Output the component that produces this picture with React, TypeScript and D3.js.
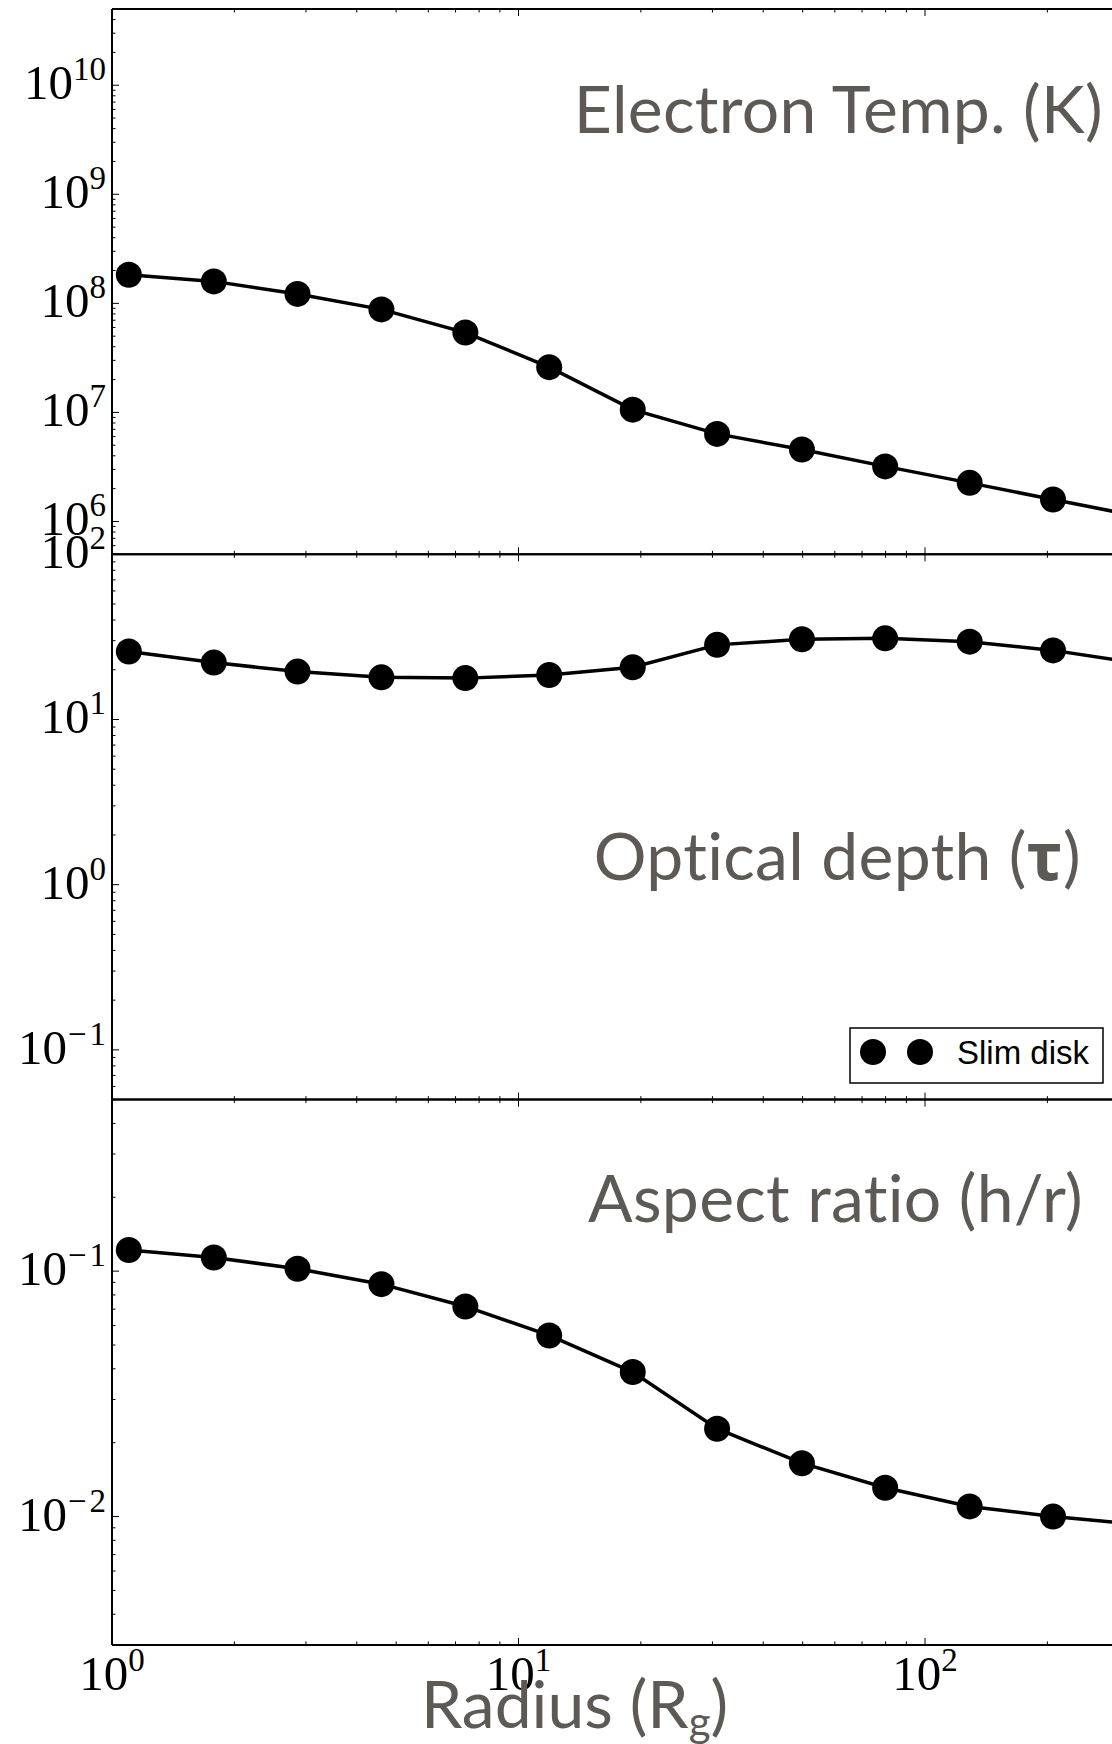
import React from "react";
import * as d3 from "d3";

// ---- data ----
const RADIUS = [1.1, 1.78, 2.86, 4.6, 7.4, 11.9, 19.1, 30.8, 49.8, 79.8, 128.8, 206.5, 333];
const ELECTRON_TEMP = [1.83e8, 1.59e8, 1.22e8, 8.8e7, 5.4e7, 2.6e7, 1.06e7, 6.35e6, 4.57e6, 3.2e6, 2.26e6, 1.59e6, 1.12e6];
const OPTICAL_DEPTH = [25.8, 22.1, 19.5, 18.0, 17.8, 18.6, 20.7, 28.3, 30.6, 31.0, 29.6, 26.2, 22.0];
const ASPECT_RATIO = [0.122, 0.1137, 0.1023, 0.0885, 0.0718, 0.0547, 0.0388, 0.0228, 0.0165, 0.0131, 0.011, 0.01, 0.0093];

const X_LIMITS = [1, 1000];
const X_TICK_EXPONENTS = [0, 1, 2];
const Y_LIMITS_TEMP = [5e5, 5e10];
const Y_LIMITS_TAU = [0.05, 100];
const Y_LIMITS_ASPECT = [0.003, 0.5];

const PANEL_TITLES = ["Electron Temp. (K)", "Optical depth", "Aspect ratio (h/r)"];
const X_TITLE = "Radius (R";
const X_TITLE_SUB = "g";
const LEGEND_LABEL = "Slim disk";

// ---- layout ----
const W = 1112;
const H = 1744;
const LEFT = 112;
const DECADE_PX = 406.5;
const TOP = 9;
const PANEL_H = 545.3;
const MAJOR = 7;
const MINOR = 3.5;
const TITLE_COLOR = "#5d5a55";
const TICK_FONT = "'Liberation Serif', 'Times New Roman', serif";
const TITLE_FONT = "Lato, 'Open Sans', sans-serif";
const TITLE_FS = 66;
const FS = 49;
const SUP_FS = 33;
const SUP_RAISE = 19;

function logMinor(domain: number[]) {
  const out: number[] = [];
  const k0 = Math.floor(Math.log10(domain[0]));
  const k1 = Math.ceil(Math.log10(domain[1]));
  for (let k = k0; k <= k1; k++) {
    for (let m = 2; m <= 9; m++) {
      const v = m * Math.pow(10, k);
      if (v >= domain[0] * 0.9999 && v <= domain[1] * 1.0001) out.push(v);
    }
  }
  return out;
}
function logMajor(domain: number[]) {
  const out: number[] = [];
  const k0 = Math.ceil(Math.log10(domain[0]) - 1e-9);
  const k1 = Math.floor(Math.log10(domain[1]) + 1e-9);
  for (let k = k0; k <= k1; k++) out.push(k);
  return out;
}

function TickLabel(props: { x: number; y: number; k: number; anchor: string }) {
  const { x, y, k, anchor } = props;
  return (
    <text x={x} y={y} textAnchor={anchor} fontFamily={TICK_FONT} fontSize={FS} fill="#000">
      10
      {k < 0 ? (
        <>
          <tspan fontSize={SUP_FS} dy={-SUP_RAISE} dx={1}>{"\u2212"}</tspan>
          <tspan fontSize={SUP_FS} dx={3}>{String(Math.abs(k))}</tspan>
        </>
      ) : (
        <tspan fontSize={SUP_FS} dy={-SUP_RAISE}>{String(k)}</tspan>
      )}
    </text>
  );
}

export default function App() {
  const x = d3.scaleLog().domain(X_LIMITS).range([LEFT, LEFT + 3 * DECADE_PX]);
  const xRight = LEFT + 3 * DECADE_PX;
  const panels = [
    { vals: ELECTRON_TEMP, ylim: Y_LIMITS_TEMP },
    { vals: OPTICAL_DEPTH, ylim: Y_LIMITS_TAU },
    { vals: ASPECT_RATIO, ylim: Y_LIMITS_ASPECT },
  ];
  const xMinor = logMinor(X_LIMITS);
  const xMajor = X_TICK_EXPONENTS;

  return (
    <svg width={W} height={H} style={{ position: "absolute", left: 0, top: 0, background: "#fff" }}>
      <rect x={0} y={0} width={W} height={H} fill="#fff" />
      {panels.map((p, i) => {
        const top = TOP + i * PANEL_H;
        const bottom = top + PANEL_H;
        const y = d3.scaleLog().domain(p.ylim).range([bottom, top]);
        const pts = RADIUS.map((r, j) => [x(r), y(p.vals[j])] as [number, number]);
        const line = d3.line()(pts) || "";
        const yMajor = logMajor(p.ylim);
        const yMinor = logMinor(p.ylim);
        const clipId = `clip${i}`;
        return (
          <g key={i}>
            <defs>
              <clipPath id={clipId}>
                <rect x={LEFT} y={top} width={xRight - LEFT} height={PANEL_H} />
              </clipPath>
            </defs>
            {xMinor.map((v, j) => (
              <g key={"xm" + j} stroke="#000" strokeWidth={1}>
                <line x1={x(v)} x2={x(v)} y1={top} y2={top + MINOR} />
                <line x1={x(v)} x2={x(v)} y1={bottom} y2={bottom - MINOR} />
              </g>
            ))}
            {xMajor.map((k) => (
              <g key={"xM" + k} stroke="#000" strokeWidth={1}>
                <line x1={x(Math.pow(10, k))} x2={x(Math.pow(10, k))} y1={top} y2={top + MAJOR} />
                <line x1={x(Math.pow(10, k))} x2={x(Math.pow(10, k))} y1={bottom} y2={bottom - MAJOR} />
              </g>
            ))}
            {yMinor.map((v, j) => (
              <line key={"ym" + j} x1={LEFT} x2={LEFT + MINOR} y1={y(v)} y2={y(v)} stroke="#000" strokeWidth={1} />
            ))}
            {yMajor.map((k) => (
              <line key={"yM" + k} x1={LEFT} x2={LEFT + MAJOR} y1={y(Math.pow(10, k))} y2={y(Math.pow(10, k))} stroke="#000" strokeWidth={1} />
            ))}
            {yMajor.map((k) => (
              <TickLabel key={"yl" + k} x={LEFT - 6} y={y(Math.pow(10, k)) + 14} k={k} anchor="end" />
            ))}
            <g clipPath={`url(#${clipId})`}>
              <path d={line} fill="none" stroke="#000" strokeWidth={3.5} />
              {pts.map((pt, j) => (
                <circle key={j} cx={pt[0]} cy={pt[1]} r={13} fill="#000" />
              ))}
            </g>
            <line x1={LEFT} x2={W + 10} y1={top} y2={top} stroke="#000" strokeWidth={2} />
            <line x1={LEFT} x2={W + 10} y1={bottom} y2={bottom} stroke="#000" strokeWidth={2} />
            <line x1={LEFT} x2={LEFT} y1={top} y2={bottom} stroke="#000" strokeWidth={2} />
          </g>
        );
      })}
      <text x={1103} y={133} textAnchor="end" fontFamily={TITLE_FONT} fontSize={TITLE_FS} letterSpacing={0.3} fill={TITLE_COLOR}>
        {PANEL_TITLES[0]}
      </text>
      <text x={1081} y={880} textAnchor="end" fontFamily={TITLE_FONT} fontSize={TITLE_FS} letterSpacing={0.3} fill={TITLE_COLOR}>
        {PANEL_TITLES[1]} (<tspan fontWeight="bold" fontFamily="'Noto Sans', 'Open Sans', sans-serif">τ</tspan>)
      </text>
      <text x={1083} y={1222} textAnchor="end" fontFamily={TITLE_FONT} fontSize={TITLE_FS} letterSpacing={0.3} fill={TITLE_COLOR}>
        {PANEL_TITLES[2]}
      </text>
      <g>
        <rect x={850} y={1028} width={253} height={55} fill="#fff" stroke="#000" strokeWidth={1.5} />
        <circle cx={873} cy={1052} r={13} fill="#000" />
        <circle cx={920} cy={1052} r={13} fill="#000" />
        <text x={957} y={1064} fontFamily="'Liberation Sans', Arial, sans-serif" fontSize={33} fill="#000">
          {LEGEND_LABEL}
        </text>
      </g>
      {xMajor.map((k) => (
        <TickLabel key={"xl" + k} x={x(Math.pow(10, k))} y={1690} k={k} anchor="middle" />
      ))}
      <text x={421} y={1728} fontFamily={TITLE_FONT} fontSize={TITLE_FS} fill={TITLE_COLOR}>
        {X_TITLE}
        <tspan fontSize={42} dy={9}>{X_TITLE_SUB}</tspan>
        <tspan dy={-9}>)</tspan>
      </text>
    </svg>
  );
}
